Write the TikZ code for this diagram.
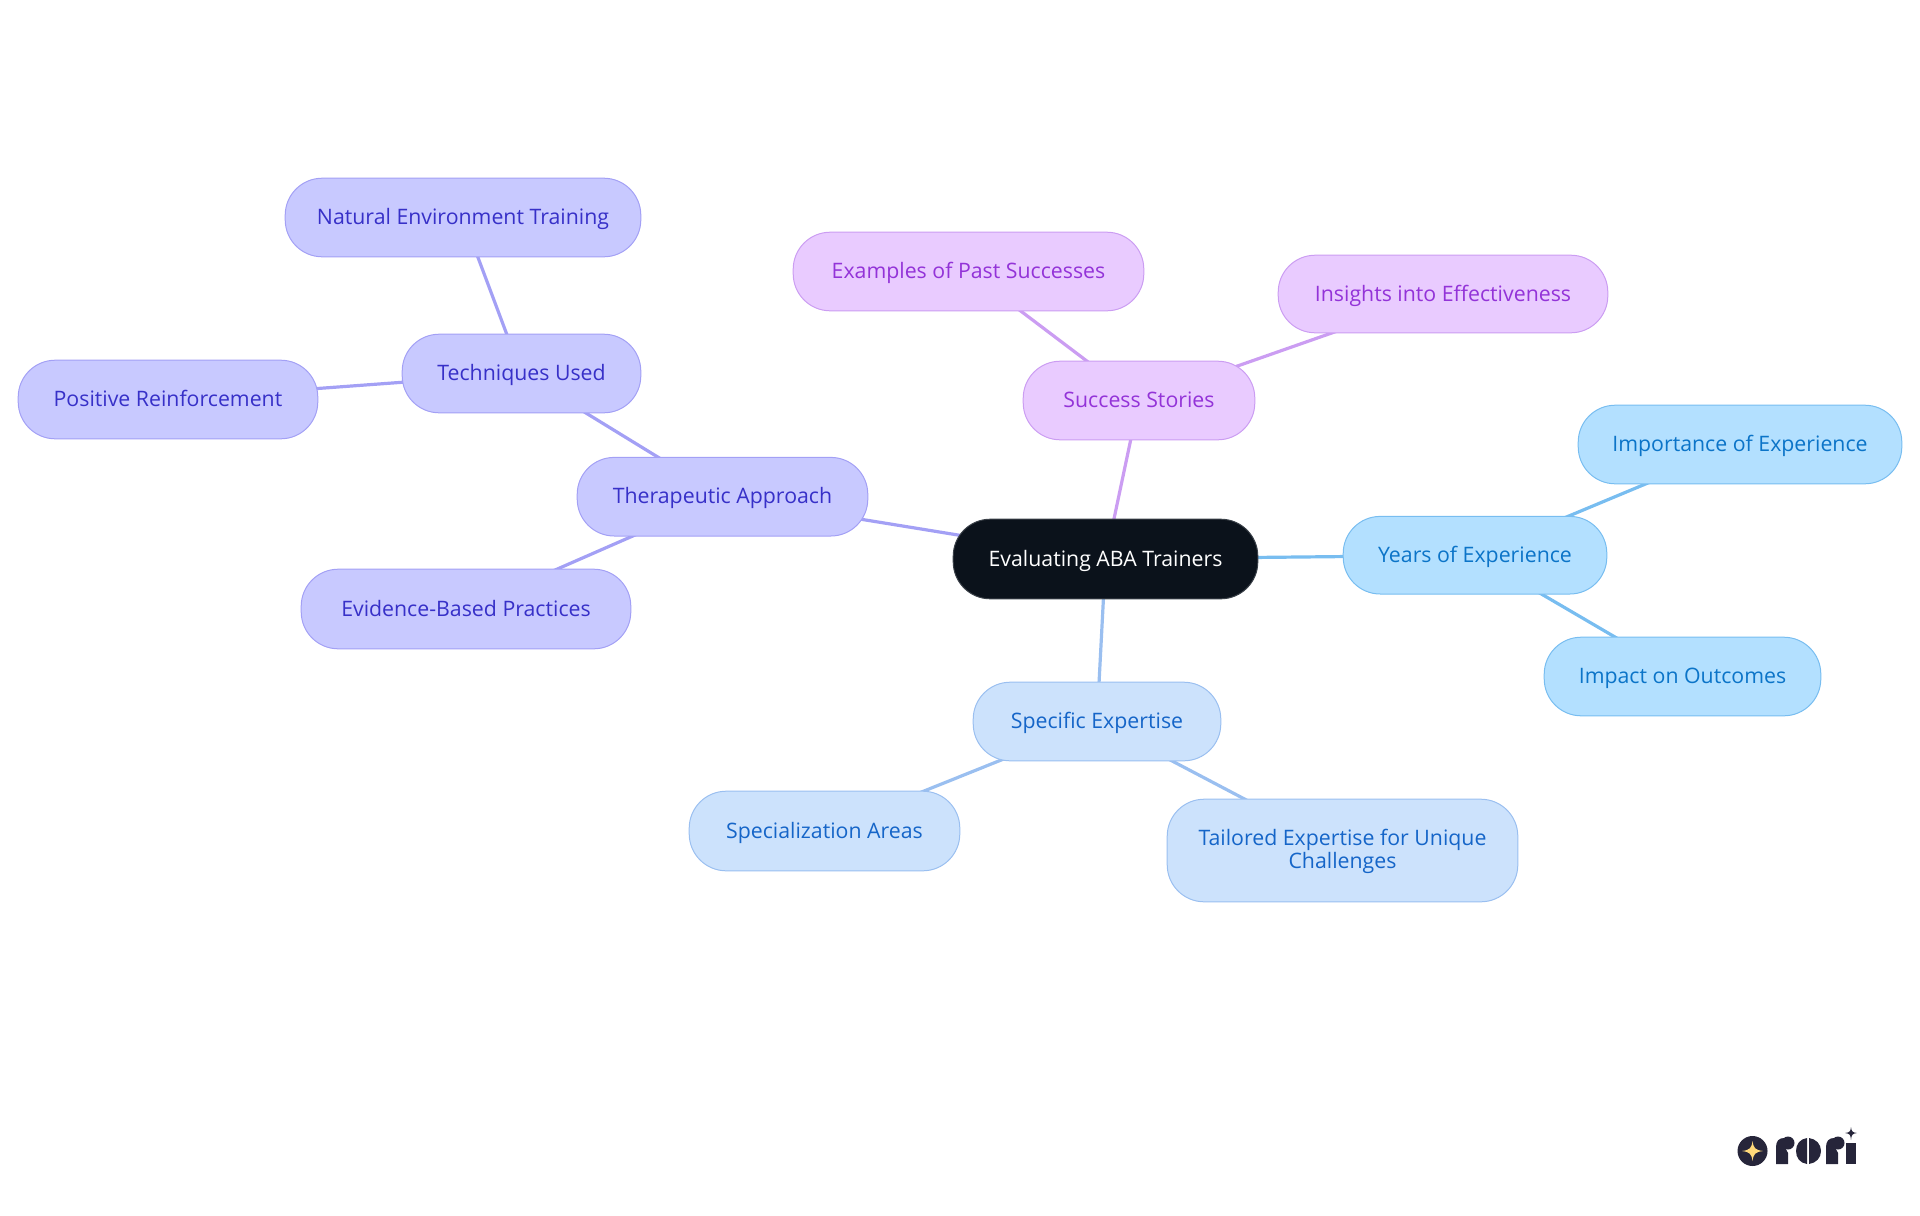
\documentclass[tikz,border=0pt]{standalone}
\usepackage{fontspec}
\usetikzlibrary{backgrounds}
\setmainfont{Open Sans}
\definecolor{rootfill}{HTML}{0B121B}
\definecolor{rootline}{HTML}{3A4048}
\definecolor{indfill}{HTML}{C8C9FF}
\definecolor{indline}{HTML}{A3A0F5}
\definecolor{indtext}{HTML}{3730C8}
\definecolor{purfill}{HTML}{E9CBFF}
\definecolor{purline}{HTML}{CB9DF2}
\definecolor{purtext}{HTML}{9333D8}
\definecolor{skyfill}{HTML}{B3E0FF}
\definecolor{skyline}{HTML}{78BDF0}
\definecolor{skytext}{HTML}{0B74C8}
\definecolor{blufill}{HTML}{CCE2FC}
\definecolor{bluline}{HTML}{9ABFF0}
\definecolor{blutext}{HTML}{1565C8}
\definecolor{logodark}{HTML}{26253A}
\definecolor{logostar}{HTML}{FFD97A}
\tikzset{
  x=0.5pt,y=-0.5pt,
  mapnode/.style={rectangle,rounded corners=18.5pt,line width=0.5pt,align=center,inner sep=0pt,text height=9pt,text depth=2pt,font=\fontsize{10.65}{11.3}\selectfont},
  rootnode/.style={mapnode,fill=rootfill,draw=rootline,text=white},
  indnode/.style={mapnode,fill=indfill,draw=indline,text=indtext},
  purnode/.style={mapnode,fill=purfill,draw=purline,text=purtext},
  skynode/.style={mapnode,fill=skyfill,draw=skyline,text=skytext},
  blunode/.style={mapnode,fill=blufill,draw=bluline,text=blutext},
  link/.style={line width=1.6pt},
}
\newcommand{\boxnode}[8][]{\node[#2,minimum width=#5*0.5pt-#3*0.5pt-0.2pt,minimum height=#6*0.5pt-#4*0.5pt-0.2pt,#1] (#7) at ({(#3+#5)/2},{(#4+#6)/2}) {#8};}
\begin{document}
\begin{tikzpicture}
\useasboundingbox (0,0) rectangle (1920,1215);
\boxnode{rootnode}{953}{519}{1258}{599}{root}{Evaluating ABA Trainers}
\boxnode[yshift=0.4pt]{indnode}{577}{458}{868}{537}{thera}{Therapeutic Approach}
\boxnode{indnode}{402}{334}{641}{413}{tech}{Techniques Used}
\boxnode{indnode}{285}{178}{641}{257}{natural}{Natural Environment Training}
\boxnode{indnode}{18}{360}{318}{439}{positive}{Positive Reinforcement}
\boxnode{indnode}{301}{569}{631}{649}{evidence}{Evidence-Based Practices}
\boxnode{purnode}{1023}{361}{1255}{440}{success}{Success Stories}
\boxnode{purnode}{793}{232}{1144}{311}{examples}{Examples of Past Successes}
\boxnode{purnode}{1278}{255}{1608}{333}{insights}{Insights into Effectiveness}
\boxnode[yshift=0.4pt]{skynode}{1343}{517}{1607}{595}{years}{Years of Experience}
\boxnode{skynode}{1578}{405}{1902}{484}{importance}{Importance of Experience}
\boxnode{skynode}{1544}{637}{1821}{716}{impact}{Impact on Outcomes}
\boxnode{blunode}{973}{682}{1221}{761}{specific}{Specific Expertise}
\boxnode{blunode}{689}{791}{960}{871}{special}{Specialization Areas}
\boxnode[text height=20pt,text depth=2.5pt]{blunode}{1167}{799}{1518}{902}{tailored}{Tailored Expertise for Unique\\Challenges}
\begin{scope}[on background layer]
\draw[link,indline] (root.center) -- (thera.center);
\draw[link,indline] (thera.center) -- (tech.center);
\draw[link,indline] (thera.center) -- (evidence.center);
\draw[link,indline] (tech.center) -- (natural.center);
\draw[link,indline] (tech.center) -- (positive.center);
\draw[link,purline] (root.center) -- (success.center);
\draw[link,purline] (success.center) -- (examples.center);
\draw[link,purline] (success.center) -- (insights.center);
\draw[link,skyline] (root.center) -- (years.center);
\draw[link,skyline] (years.center) -- (importance.center);
\draw[link,skyline] (years.center) -- (impact.center);
\draw[link,bluline] (root.center) -- (specific.center);
\draw[link,bluline] (specific.center) -- (special.center);
\draw[link,bluline] (specific.center) -- (tailored.center);
\end{scope}
% logo
\fill[logodark] (1752.5,1151) circle (15);
\fill[logostar] (1752.5,1141) .. controls (1753.5,1148) and (1755,1150) .. (1763,1151) .. controls (1755,1152) and (1753.5,1154) .. (1752.5,1161) .. controls (1751.5,1154) and (1750,1152) .. (1742,1151) .. controls (1750,1150) and (1751.5,1148) .. (1752.5,1141) -- cycle;
\fill[logodark] (1776,1164) -- (1776,1147) .. controls (1776,1141) and (1779,1138) .. (1784,1138) -- (1784,1146) .. controls (1786,1149) and (1787,1151) .. (1788,1153) -- (1788,1164) -- cycle;
\fill[logodark] (1788,1143) circle (6.5);
\fill[logodark] (1807,1138) .. controls (1800,1139) and (1796,1144) .. (1796,1151) .. controls (1796,1158) and (1800,1163) .. (1807,1164) -- cycle;
\fill[logodark] (1809,1138) .. controls (1816,1139) and (1821,1144) .. (1821,1151) .. controls (1821,1158) and (1816,1163) .. (1809,1164) -- cycle;
\fill[logodark] (1826,1164) -- (1826,1147) .. controls (1826,1141) and (1829,1138) .. (1834,1138) -- (1834,1146) .. controls (1836,1149) and (1837,1151) .. (1838,1153) -- (1838,1164) -- cycle;
\fill[logodark] (1838,1143) circle (6.5);
\fill[logodark] (1846,1143) -- (1856,1143) -- (1856,1164) -- (1846,1164) -- cycle;
\fill[logodark] (1851,1127) .. controls (1851.5,1131) and (1852,1132.5) .. (1857,1133) .. controls (1852,1133.5) and (1851.5,1135) .. (1851,1140) .. controls (1850.5,1135) and (1850,1133.5) .. (1845,1133) .. controls (1850,1132.5) and (1850.5,1131) .. (1851,1127) -- cycle;
\end{tikzpicture}
\end{document}
